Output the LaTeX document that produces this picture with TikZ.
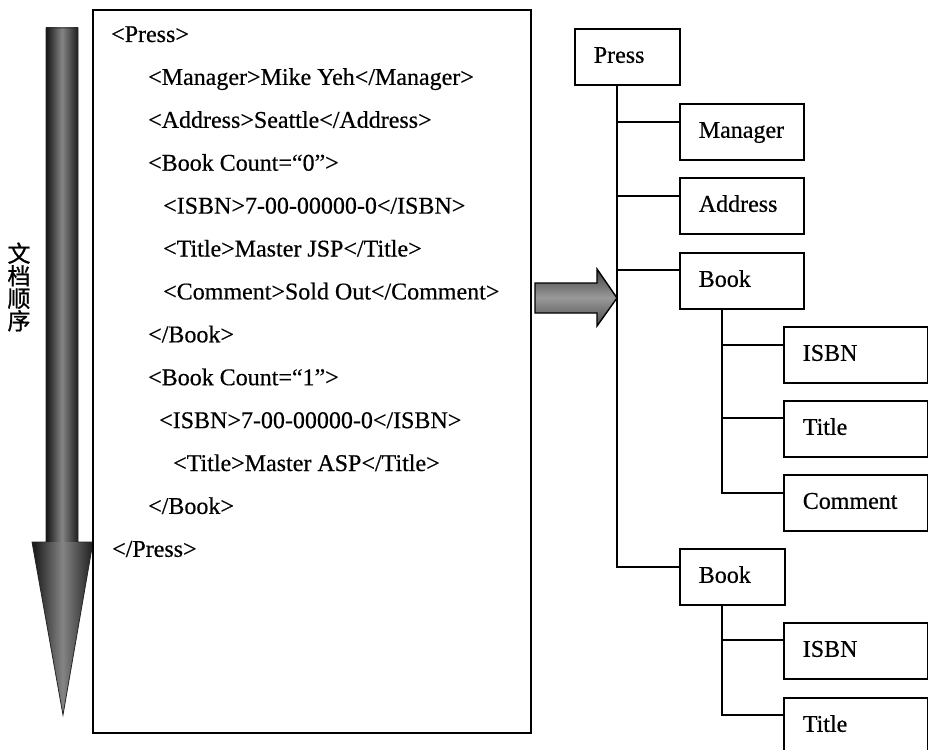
\documentclass[tikz,border=0pt]{standalone}
\usepackage{fontspec}
\setmainfont{Liberation Serif}
\newfontface\heavyserif{Liberation Serif}[FakeBold=0.5]
\newfontfamily\cjkfont{Noto Sans CJK SC}[FakeBold=1]
\begin{document}
\begin{tikzpicture}[x=1pt,y=-1pt,
  xmlline/.style={anchor=base west,inner sep=0pt,font=\heavyserif\fontsize{24}{24}\selectfont},
  treebox/.style={draw,line width=1.6pt,anchor=north west,minimum height=56pt,
    text height=17pt,text depth=5pt,inner xsep=19pt,inner ysep=0pt,align=left,
    font=\heavyserif\fontsize{24}{24}\selectfont},
  link/.style={line width=1.6pt,line cap=rect},
  grain/.style={left color=black!92,right color=black!88,middle color=black!48}]
\useasboundingbox (0,0) rectangle (928,749);
\clip (0,0) rectangle (928,749);

% document-order arrow on the left: shaded shaft and head, then its outline
\shade[grain] (46,28) rectangle (78,543);
\shade[grain] (32,542) -- (93,542) -- (63,715) -- cycle;
\draw[black!85,line width=0.8pt,line join=miter]
  (46,28) -- (78,28) -- (78,542) -- (93,542) -- (63,715) -- (32,542) -- (46,542) -- cycle;
\node[font=\cjkfont\fontsize{23}{22.5}\selectfont,align=center,inner sep=0pt]
  (order) at (19,287) {文\\档\\顺\\序};

% XML source listing
\node[draw,line width=1.6pt,anchor=north west,minimum width=438pt,minimum height=723pt,inner sep=0pt]
  (src) at (92,9) {};
\node[xmlline] (l1)  at (111,42.0)  {<Press>};
\node[xmlline] (l2)  at (148,84.9)  {<Manager>Mike Yeh</Manager>};
\node[xmlline] (l3)  at (148,127.8) {<Address>Seattle</Address>};
\node[xmlline] (l4)  at (148,170.7) {<Book Count=“0”>};
\node[xmlline] (l5)  at (163,213.6) {<ISBN>7-00-00000-0</ISBN>};
\node[xmlline] (l6)  at (163,256.5) {<Title>Master JSP</Title>};
\node[xmlline] (l7)  at (163,299.4) {<Comment>Sold Out</Comment>};
\node[xmlline] (l8)  at (148,342.3) {</Book>};
\node[xmlline] (l9)  at (148,385.2) {<Book Count=“1”>};
\node[xmlline] (l10) at (159,428.1) {<ISBN>7-00-00000-0</ISBN>};
\node[xmlline] (l11) at (173,471.0) {<Title>Master ASP</Title>};
\node[xmlline] (l12) at (148,513.9) {</Book>};
\node[xmlline] (l13) at (112,556.8) {</Press>};

% conversion arrow
\shade[draw=black,line width=1.4pt,line join=miter,top color=black!75,bottom color=black!70,middle color=black!40]
  (535,283) -- (597,283) -- (597,269) -- (617,298) -- (597,326) -- (597,313) -- (535,313) -- cycle;

% element tree
\node[treebox,text width=67pt]  (press) at (574,28)  {Press};
\node[treebox,text width=86pt]  (mgr)   at (679,103) {Manager};
\node[treebox,text width=86pt]  (addr)  at (679,177) {Address};
\node[treebox,text width=86pt]  (book1) at (679,252) {Book};
\node[treebox,text width=106pt] (isbn1) at (783,326) {ISBN};
\node[treebox,text width=106pt] (title1) at (783,400) {Title};
\node[treebox,text width=106pt] (comm)  at (783,474) {Comment};
\node[treebox,text width=67pt]  (book2) at (679,548) {Book};
\node[treebox,text width=106pt] (isbn2) at (783,622) {ISBN};
\node[treebox,text width=106pt] (title2) at (783,697) {Title};

% branch entry points on each child box
\coordinate (trunk)  at ([xshift=43pt]press.south west);
\coordinate (in-mgr)  at ([yshift=-19pt]mgr.north west);
\coordinate (in-addr) at ([yshift=-19pt]addr.north west);
\coordinate (in-b1)   at ([yshift=-18pt]book1.north west);
\coordinate (in-b2)   at ([yshift=-19pt]book2.north west);
\coordinate (sub1)    at ([xshift=43pt]book1.south west);
\coordinate (in-i1)   at ([yshift=-19pt]isbn1.north west);
\coordinate (in-t1)   at ([yshift=-18pt]title1.north west);
\coordinate (in-c1)   at ([yshift=-19pt]comm.north west);
\coordinate (sub2)    at ([xshift=43pt]book2.south west);
\coordinate (in-i2)   at ([yshift=-18pt]isbn2.north west);
\coordinate (in-t2)   at ([yshift=-18pt]title2.north west);

\draw[link] (trunk) |- (in-b2);
\draw[link] (trunk |- in-mgr) -- (in-mgr);
\draw[link] (trunk |- in-addr) -- (in-addr);
\draw[link] (trunk |- in-b1) -- (in-b1);

\draw[link] (sub1) |- (in-c1);
\draw[link] (sub1 |- in-i1) -- (in-i1);
\draw[link] (sub1 |- in-t1) -- (in-t1);

\draw[link] (sub2) |- (in-t2);
\draw[link] (sub2 |- in-i2) -- (in-i2);
\end{tikzpicture}
\end{document}
